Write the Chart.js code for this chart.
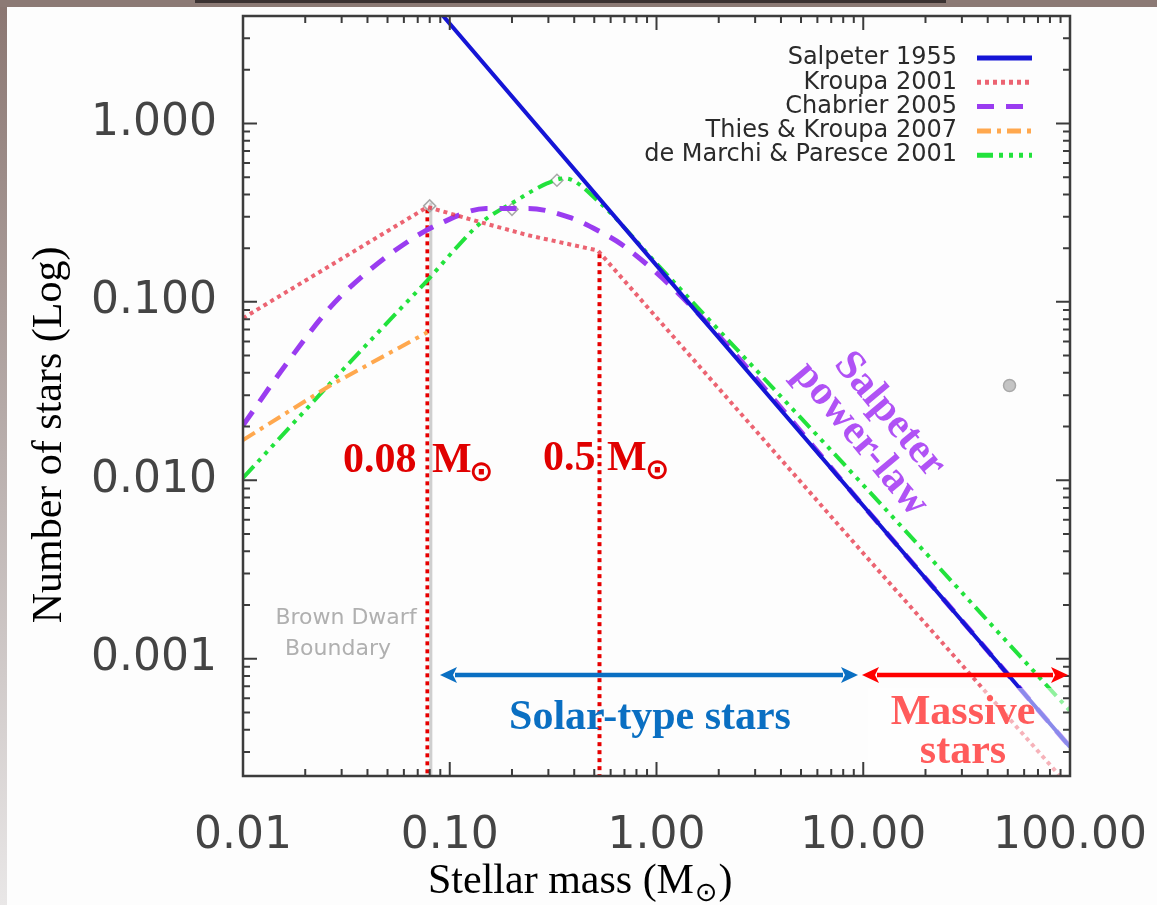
<!DOCTYPE html>
<html>
<head>
<meta charset="utf-8">
<script src="https://cdn.jsdelivr.net/npm/chart.js@4.4.0/dist/chart.umd.min.js"></script>
<style>
  html, body { margin: 0; padding: 0; background: #fdfdfd; overflow: hidden; }
  .chart-container { position: relative; width: 1157px; height: 905px; }
</style>
</head>
<body>
<div class="chart-container"><canvas id="imfChart"></canvas></div>
<script>
// axis ranges: stellar mass (Msun) and relative number of stars
const massRange = [0.01, 100];
const countRange = [0.00022, 4.0];
const massTicks = [0.01, 0.1, 1, 10, 100];
const countTicks = [0.001, 0.01, 0.1, 1];

// curves
const salpeterMass = [0.08, 1, 10, 100];
const salpeterCount = [4.9, 0.16, 0.0072, 0.00032];

const kroupaMass = [0.01, 0.078, 0.14, 0.24, 0.52, 10, 100];
const kroupaCount = [0.081, 0.34, 0.28, 0.236, 0.194, 0.0039, 0.00019];

const chabrierMass = [0.01, 0.016, 0.0264, 0.038, 0.064, 0.09, 0.15, 0.24, 0.38, 0.52, 0.69, 1.45, 10, 100];
const chabrierCount = [0.0203, 0.044, 0.093, 0.14, 0.221, 0.275, 0.334, 0.334, 0.297, 0.251, 0.207, 0.096, 0.0072, 0.00032];

const thiesMass = [0.01, 0.0264, 0.078];
const thiesCount = [0.0168, 0.034, 0.0675];

const demarchiMass = [0.01, 0.0264, 0.0556, 0.078, 0.108, 0.14, 0.21, 0.295, 0.36, 0.53, 1, 10, 100];
const demarchiCount = [0.0103, 0.0349, 0.0873, 0.132, 0.202, 0.275, 0.37, 0.461, 0.492, 0.361, 0.164, 0.0094, 0.00051];

// markers and boundaries
const markerMass = [0.08, 0.2, 0.33, 51];
const markerCount = [0.345, 0.33, 0.48, 0.034];
const boundaryMass = [0.078, 0.53];
const boundaryTop = [0.33, 0.185];
const brownDwarfMass = 0.081;
const brownDwarfTop = 0.36;

const zip = (xs, ys) => xs.map((x, i) => ({ x: x, y: ys[i] }));

const curveDefaults = { pointRadius: 0, fill: false, tension: 0, clip: 0 };

const datasets = [
    { ...curveDefaults, label: 'Salpeter 1955', data: zip(salpeterMass, salpeterCount),
      borderColor: '#1515d6', borderWidth: 4, borderDash: [] },
    { ...curveDefaults, label: 'Kroupa 2001', data: zip(kroupaMass, kroupaCount),
      borderColor: 'rgba(228,40,60,0.72)', borderWidth: 4, borderDash: [4, 4] },
    { ...curveDefaults, label: 'Chabrier 2005', data: zip(chabrierMass, chabrierCount),
      borderColor: '#9a3cf0', borderWidth: 5, borderDash: [17, 12], cubicInterpolationMode: 'monotone' },
    { ...curveDefaults, label: 'Thies & Kroupa 2007', data: zip(thiesMass, thiesCount),
      borderColor: '#ffa84e', borderWidth: 4, borderDash: [14, 6, 4, 6] },
    { ...curveDefaults, label: 'de Marchi & Paresce 2001', data: zip(demarchiMass, demarchiCount),
      borderColor: '#22e23c', borderWidth: 4, borderDash: [16, 6, 4, 6, 4, 6, 4, 6], cubicInterpolationMode: 'monotone' },
    { ...curveDefaults, label: 'markers', data: zip(markerMass, markerCount), showLine: false,
      pointRadius: 6, pointStyle: ['rectRot', 'rectRot', 'rectRot', 'circle'],
      borderColor: '#a8a8a8', backgroundColor: ['rgba(0,0,0,0)', 'rgba(0,0,0,0)', 'rgba(0,0,0,0)', '#c4c4c4'], borderWidth: 1.5 },
    { ...curveDefaults, label: 'brown dwarf', data: [{ x: brownDwarfMass, y: brownDwarfTop }, { x: brownDwarfMass, y: countRange[0] }],
      borderColor: '#cfcfcf', borderWidth: 3 },
    { ...curveDefaults, label: 'b1', data: [{ x: boundaryMass[0], y: boundaryTop[0] }, { x: boundaryMass[0], y: countRange[0] }],
      borderColor: '#e60000', borderWidth: 4, borderDash: [4, 4] },
    { ...curveDefaults, label: 'b2', data: [{ x: boundaryMass[1], y: boundaryTop[1] }, { x: boundaryMass[1], y: countRange[0] }],
      borderColor: '#e60000', borderWidth: 4, borderDash: [4, 4] }
];

function drawArrow(ctx, x1, x2, y, color) {
    const head = 17, half = 8;
    ctx.save();
    ctx.strokeStyle = color;
    ctx.fillStyle = color;
    ctx.lineWidth = 4.5;
    ctx.beginPath();
    ctx.moveTo(x1 + head - 2, y);
    ctx.lineTo(x2 - head + 2, y);
    ctx.stroke();
    ctx.beginPath();
    ctx.moveTo(x1, y); ctx.lineTo(x1 + head, y - half); ctx.lineTo(x1 + head - 4, y); ctx.lineTo(x1 + head, y + half);
    ctx.closePath(); ctx.fill();
    ctx.beginPath();
    ctx.moveTo(x2, y); ctx.lineTo(x2 - head, y - half); ctx.lineTo(x2 - head + 4, y); ctx.lineTo(x2 - head, y + half);
    ctx.closePath(); ctx.fill();
    ctx.restore();
}

function drawSunLabel(ctx, num, xNum, xM, xSun, base, color) {
    ctx.fillStyle = color;
    ctx.textAlign = 'left';
    ctx.textBaseline = 'alphabetic';
    ctx.font = 'bold 42px "Liberation Serif"';
    ctx.fillText(num, xNum, base);
    ctx.fillText('M', xM, base);
    ctx.font = 'bold 29px "DejaVu Sans"';
    ctx.fillText('\u2299', xSun, base + 9);
}

// drop the extra room Chart.js keeps for overhanging tick labels
function noLabelPadding(s) {
    s.paddingTop = 0; s.paddingBottom = 0; s.paddingLeft = 0; s.paddingRight = 0;
}

const decorPlugin = {
    id: 'decor',
    beforeDraw(chart) {
        const { ctx, width, height } = chart;
        ctx.save();
        ctx.fillStyle = '#fdfdfd';
        ctx.fillRect(0, 0, width, height);
        const g = ctx.createLinearGradient(0, 0, 0, height);
        g.addColorStop(0, '#8a7671');
        g.addColorStop(0.5, '#b9afad');
        g.addColorStop(1, '#e9e7e7');
        ctx.fillStyle = g;
        ctx.fillRect(0, 0, 7, height);
        ctx.fillStyle = '#8c7a75';
        ctx.fillRect(0, 0, width, 7);
        ctx.fillStyle = '#3b3232';
        ctx.fillRect(195, 0, 751, 3);
        ctx.restore();
    },
    afterDatasetsDraw(chart) {
        const { ctx, chartArea: a, scales } = chart;
        const xs = scales.x, ys = scales.y;
        ctx.save();

        // faded patch behind "Massive stars"
        ctx.fillStyle = 'rgba(255,255,255,0.5)';
        ctx.fillRect(868, 688, a.right - 869, a.bottom - 688);

        // frame with inward ticks on all sides
        ctx.strokeStyle = '#3c3c3c';
        ctx.lineWidth = 2.5;
        ctx.strokeRect(a.left, a.top, a.right - a.left, a.bottom - a.top);
        ctx.lineWidth = 2;
        ctx.beginPath();
        for (let e = -2; e <= 2; e++) {
            for (let k = 1; k <= 9; k++) {
                const v = k * Math.pow(10, e);
                if (v < massRange[0] * 0.999 || v > massRange[1] * 1.001) continue;
                const px = xs.getPixelForValue(v);
                const len = k === 1 ? 14 : 7;
                ctx.moveTo(px, a.bottom); ctx.lineTo(px, a.bottom - len);
                ctx.moveTo(px, a.top); ctx.lineTo(px, a.top + len);
            }
        }
        for (let e = -4; e <= 0; e++) {
            for (let k = 1; k <= 9; k++) {
                const v = k * Math.pow(10, e);
                if (v < countRange[0] || v > countRange[1]) continue;
                const py = ys.getPixelForValue(v);
                const len = k === 1 ? 14 : 7;
                ctx.moveTo(a.left, py); ctx.lineTo(a.left + len, py);
                ctx.moveTo(a.right, py); ctx.lineTo(a.right - len, py);
            }
        }
        ctx.stroke();

        // legend
        ctx.font = '24px "DejaVu Sans"';
        ctx.fillStyle = '#2a2a2a';
        ctx.textAlign = 'right';
        ctx.textBaseline = 'middle';
        for (let i = 0; i < 5; i++) {
            const ds = chart.data.datasets[i];
            const y = 58 + i * 24.3;
            ctx.fillText(ds.label, 957, y);
            ctx.save();
            ctx.strokeStyle = ds.borderColor;
            ctx.lineWidth = 5;
            ctx.setLineDash(ds.borderDash || []);
            ctx.beginPath();
            ctx.moveTo(977, y); ctx.lineTo(1032, y);
            ctx.stroke();
            ctx.restore();
        }

        // brown dwarf note
        ctx.font = '22px "DejaVu Sans"';
        ctx.fillStyle = '#b0b0b0';
        ctx.textAlign = 'center';
        ctx.textBaseline = 'alphabetic';
        ctx.fillText('Brown Dwarf', 346, 624);
        ctx.fillText('Boundary', 338, 655);

        // mass thresholds
        drawSunLabel(ctx, '0.08', 343, 432, 469, 472, '#e00000');
        drawSunLabel(ctx, '0.5', 543, 607, 645, 470, '#e00000');

        // range arrows and labels
        drawArrow(ctx, 440, 858, 675, '#0a6fc2');
        drawArrow(ctx, 862, 1068, 675, '#ff0000');
        ctx.font = 'bold 42px "Liberation Serif"';
        ctx.textAlign = 'center';
        ctx.textBaseline = 'middle';
        ctx.fillStyle = '#0a6fc2';
        ctx.fillText('Solar-type stars', 650, 718);
        ctx.fillStyle = '#ff5b5b';
        ctx.fillText('Massive', 963, 713);
        ctx.fillText('stars', 963, 752);

        // slope label
        ctx.save();
        ctx.translate(875, 427);
        ctx.rotate(50 * Math.PI / 180);
        ctx.fillStyle = '#b052f5';
        ctx.fillText('Salpeter', 0, -19);
        ctx.fillText('power-law', 0, 19);
        ctx.restore();

        // axis titles
        ctx.fillStyle = '#000';
        ctx.font = '42px "Liberation Serif"';
        ctx.textAlign = 'left';
        ctx.textBaseline = 'alphabetic';
        const t1 = 'Stellar mass (M';
        ctx.fillText(t1, 428, 893);
        let w = ctx.measureText(t1).width;
        ctx.font = '27px "DejaVu Sans"';
        ctx.fillText('\u2299', 428 + w + 1, 901);
        const w2 = ctx.measureText('\u2299').width;
        ctx.font = '42px "Liberation Serif"';
        ctx.fillText(')', 428 + w + w2 + 2, 893);

        ctx.save();
        ctx.translate(61, 435);
        ctx.rotate(-Math.PI / 2);
        ctx.textAlign = 'center';
        ctx.fillText('Number of stars (Log)', 0, 0);
        ctx.restore();

        ctx.restore();
    }
};

const chartOptions = {
    responsive: true,
    maintainAspectRatio: false,
    animation: false,
    events: [],
    layout: { padding: { top: 16, right: 87, left: 0, bottom: 0 } },
    plugins: { legend: { display: false }, tooltip: { enabled: false } },
    scales: {
        x: {
            type: 'logarithmic',
            min: massRange[0],
            max: massRange[1],
            grid: { display: false },
            border: { display: false },
            afterBuildTicks: (s) => { s.ticks = massTicks.map(v => ({ value: v })); },
            afterFit: (s) => { s.height = 129; noLabelPadding(s); },
            ticks: {
                autoSkip: false, maxRotation: 0, padding: 26,
                color: '#444', font: { family: 'DejaVu Sans', size: 44 },
                callback: (v) => Number(v).toFixed(2)
            }
        },
        y: {
            type: 'logarithmic',
            min: countRange[0],
            max: countRange[1],
            grid: { display: false },
            border: { display: false },
            afterBuildTicks: (s) => { s.ticks = countTicks.map(v => ({ value: v })); },
            afterFit: (s) => { s.width = 243; noLabelPadding(s); },
            ticks: {
                autoSkip: false, padding: 18,
                color: '#444', font: { family: 'DejaVu Sans', size: 44 },
                callback: (v) => Number(v).toFixed(3)
            }
        }
    }
};

const ctx = document.getElementById('imfChart').getContext('2d');
const imfChart = new Chart(ctx, {
    type: 'line',
    data: { datasets: datasets },
    options: chartOptions,
    plugins: [decorPlugin]
});
</script>
</body>
</html>
